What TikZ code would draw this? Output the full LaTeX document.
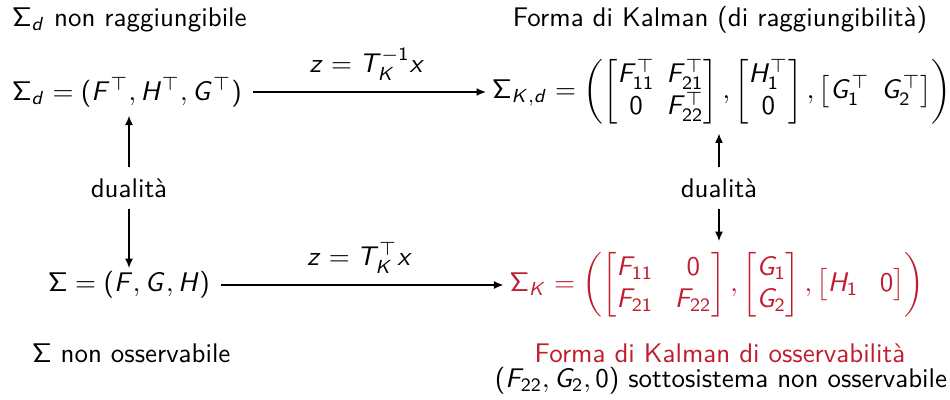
\documentclass[tikz,border=0pt]{standalone}
\usepackage{amsmath}
\usetikzlibrary{arrows.meta}
\definecolor{kred}{RGB}{190,30,45}
\renewcommand{\familydefault}{\sfdefault}
\DeclareSymbolFont{sfletters}{OT1}{cmss}{m}{sl}
\DeclareSymbolFont{sfops}{OT1}{cmss}{m}{n}
\DeclareMathSymbol{F}{\mathalpha}{sfletters}{`F}
\DeclareMathSymbol{G}{\mathalpha}{sfletters}{`G}
\DeclareMathSymbol{H}{\mathalpha}{sfletters}{`H}
\DeclareMathSymbol{K}{\mathalpha}{sfletters}{`K}
\DeclareMathSymbol{T}{\mathalpha}{sfletters}{`T}
\DeclareMathSymbol{d}{\mathalpha}{sfletters}{`d}
\DeclareMathSymbol{x}{\mathalpha}{sfletters}{`x}
\DeclareMathSymbol{z}{\mathalpha}{sfletters}{`z}
\DeclareMathSymbol{0}{\mathalpha}{sfops}{`0}
\DeclareMathSymbol{1}{\mathalpha}{sfops}{`1}
\DeclareMathSymbol{2}{\mathalpha}{sfops}{`2}
\DeclareMathSymbol{\Sigma}{\mathalpha}{sfops}{"06}
\DeclareMathSymbol{(}{\mathopen}{sfops}{`(}
\DeclareMathSymbol{)}{\mathclose}{sfops}{`)}
\begin{document}
\sffamily
\begin{tikzpicture}[x=0.371pt,y=-0.371pt,
  lbl/.style={inner sep=1pt,font=\sffamily},
  arr/.style={-{Latex[length=3.6pt,width=3pt]},line width=0.7pt}]
\useasboundingbox (0,0) rectangle (950,399);
\node[lbl,anchor=west] (t1) at (9,20) {$\Sigma_d$ non raggiungibile};
\node[lbl] (t2) at (720,20) {Forma di Kalman (di raggiungibilità)};
\node[lbl] (sd) at (127,92) {$\Sigma_d = (F^\top, H^\top, G^\top)$};
\node[lbl] (skd) at (722,92) {\setlength{\arraycolsep}{2.2pt}$\Sigma_{K,d} = \left(\begin{bmatrix} F_{11}^\top & F_{21}^\top\\ 0 & F_{22}^\top\end{bmatrix},\begin{bmatrix} H_1^\top\\ 0\end{bmatrix},\begin{bmatrix} G_1^\top & G_2^\top\end{bmatrix}\right)$};
\node[lbl] (s) at (129,285) {$\Sigma = (F, G, H)$};
\node[lbl,text=kred] (sk) at (717,285) {\setlength{\arraycolsep}{4pt}$\Sigma_{K} = \left(\begin{bmatrix} F_{11} & 0\\ F_{21} & F_{22}\end{bmatrix},\begin{bmatrix} G_1\\ G_2\end{bmatrix},\begin{bmatrix} H_1 & 0\end{bmatrix}\right)$};
\node[lbl] (dl) at (129,188) {dualità};
\node[lbl] (dr) at (719,188) {dualità};
\node[lbl,anchor=west] (b1) at (29,353) {$\Sigma$ non osservabile};
\node[lbl,text=kred] (b2) at (720,353) {Forma di Kalman di osservabilità};
\node[lbl] (b3) at (721,381) {$(F_{22}, G_2, 0)$ sottosistema non osservabile};
\draw[arr,shorten <=3pt,shorten >=1pt] (sd.east) -- node[lbl,above=3pt] (l1) {$z = T_K^{-1}x$} (sd.east -| skd.west);
\draw[arr,shorten <=3pt,shorten >=1pt] (s.east) -- node[lbl,above=3pt] (l2) {$z = T_K^{\top}x$} (s.east -| sk.west);
\draw[arr,shorten <=3pt,shorten >=2pt] (dl.north) -- (dl.north |- sd.south);
\draw[arr,shorten <=3pt] (dl.south) -- (dl.south |- s.north);
\draw[arr,shorten <=3pt,shorten >=2pt] (dr.north) -- (dr.north |- skd.south);
\draw[arr,shorten <=3pt,shorten >=3pt] (dr.south) -- (dr.south |- sk.north);
\end{tikzpicture}
\end{document}
